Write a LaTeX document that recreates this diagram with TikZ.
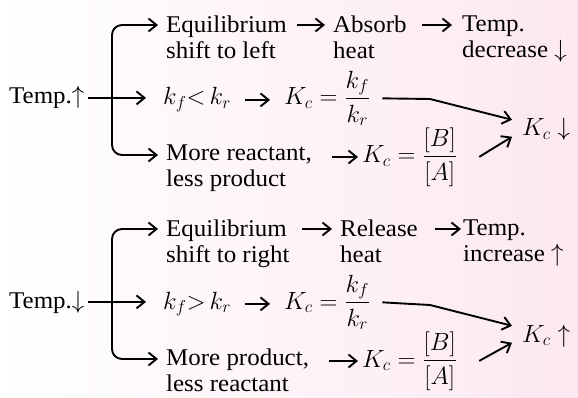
\documentclass[tikz,border=0pt]{standalone}
\usepackage{amsmath}
\usepackage{fontspec}
\setmainfont[FakeStretch=1.04]{Liberation Serif}
\usetikzlibrary{arrows.meta,calc}
\definecolor{bgpink}{RGB}{252,232,241}

\begin{document}
\begin{tikzpicture}[x=1pt,y=-1pt,
    txt/.style={anchor=north west, inner sep=0pt, align=left, font=\fontsize{24}{26}\selectfont},
    eqn/.style={anchor=base west, inner sep=0pt, font=\fontsize{24}{26}\selectfont},
    arrow/.style={-{Straight Barb[length=8pt,width=13pt]}, line width=1.9pt}
]
% Background
\shade[left color=white, right color=bgpink] (0,0) rectangle (578,398);
\useasboundingbox (0,0) rectangle (578,398);

% Temperature rise
\node[eqn] (temp1) at (9,104) {Temp.$\uparrow$};
\node[txt] (eq1) at (166,16) {Equilibrium\\shift to left};
\node[txt] (abs1) at (333,16) {Absorb\\heat};
\node[txt] (tmp1) at (462,16) {Temp.\\decrease $\downarrow$};
\node[eqn] (kk1) at (163,105) {$k_f{<}\,k_r$};
\node[eqn] (kc1) at (284,105) {$K_c = \dfrac{k_f}{k_r}$};
\node[txt] (mr1) at (166,145) {More reactant,\\less product};
\node[eqn] (kb1) at (362,163) {$K_c = \dfrac{[B]}{[A]}$};
\node[eqn] (kd1) at (522,136) {$K_c\downarrow$};
\coordinate (fork1) at (112,100);
\coordinate (bend1) at (430,99);

\draw[arrow, rounded corners=10pt, shorten >=8pt] (fork1) |- ([yshift=-9pt]eq1.north west);
\draw[arrow, rounded corners=10pt, shorten >=8pt] (fork1) |- ([yshift=-10pt]mr1.north west);
\draw[arrow, shorten <=3pt, shorten >=17pt] (temp1.east) -- (temp1.east -| kk1.west);
\draw[arrow, shorten <=10pt, shorten >=8pt] ([yshift=-9pt]eq1.north east) -- ([yshift=-9pt]abs1.north west);
\draw[arrow, shorten <=15pt, shorten >=10pt] ([yshift=-9pt]abs1.north east) -- ([yshift=-9pt]tmp1.north west);
\draw[arrow, shorten <=14pt, shorten >=14pt] (kk1.east) -- (kk1.east -| kc1.west);
\draw[arrow] ([xshift=12pt]kc1.east) -- (bend1) -- ([xshift=-10pt,yshift=10pt]kd1.west);
\draw[arrow, shorten >=4pt] ([xshift=20pt,yshift=-12pt]mr1.north east) -- ([yshift=-12pt]mr1.north east -| kb1.west);
\draw[arrow] ([xshift=22pt]kb1.east) -- ([xshift=-10pt,yshift=-7pt]kd1.west);

% Temperature drop
\node[eqn] (temp2) at (9,308) {Temp.$\downarrow$};
\node[txt] (eq2) at (166,220) {Equilibrium\\shift to right};
\node[txt] (rel2) at (340,220) {Release\\heat};
\node[txt] (tmp2) at (463,220) {Temp.\\increase $\uparrow$};
\node[eqn] (kk2) at (163,309) {$k_f{>}\,k_r$};
\node[eqn] (kc2) at (284,309) {$K_c = \dfrac{k_f}{k_r}$};
\node[txt] (mr2) at (166,349) {More product,\\less reactant};
\node[eqn] (kb2) at (362,367) {$K_c = \dfrac{[B]}{[A]}$};
\node[eqn] (ku2) at (522,342) {$K_c\uparrow$};
\coordinate (fork2) at (112,304);
\coordinate (bend2) at (430,305);

\draw[arrow, rounded corners=10pt, shorten >=8pt] (fork2) |- ([yshift=-9pt]eq2.north west);
\draw[arrow, rounded corners=10pt, shorten >=8pt] (fork2) |- ([yshift=-10pt]mr2.north west);
\draw[arrow, shorten <=3pt, shorten >=17pt] (temp2.east) -- (temp2.east -| kk2.west);
\draw[arrow, shorten <=12pt, shorten >=8pt] ([yshift=-9pt]eq2.north east) -- ([yshift=-9pt]rel2.north west);
\draw[arrow, shorten <=17pt, shorten >=2pt] ([yshift=-9pt]rel2.north east) -- ([yshift=-9pt]tmp2.north west);
\draw[arrow, shorten <=14pt, shorten >=14pt] (kk2.east) -- (kk2.east -| kc2.west);
\draw[arrow] ([xshift=12pt]kc2.east) -- (bend2) -- ([xshift=-10pt,yshift=10pt]ku2.west);
\draw[arrow, shorten >=4pt] ([xshift=20pt,yshift=-12pt]mr2.north east) -- ([yshift=-12pt]mr2.north east -| kb2.west);
\draw[arrow] ([xshift=22pt]kb2.east) -- ([xshift=-10pt,yshift=-7pt]ku2.west);
\end{tikzpicture}
\end{document}
